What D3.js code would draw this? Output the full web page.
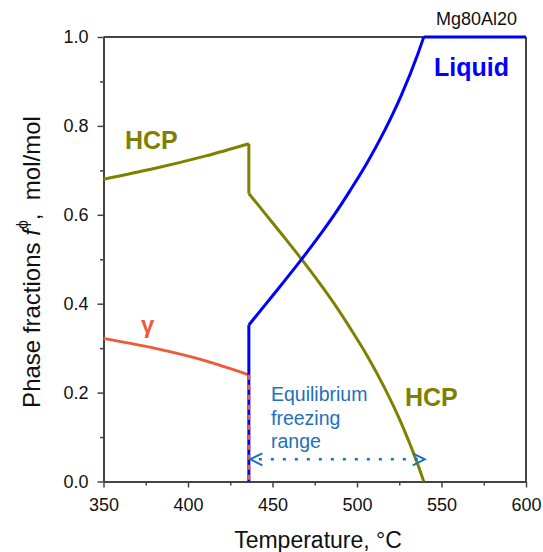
<!DOCTYPE html>
<html>
<head>
<meta charset="utf-8">
<script src="https://cdn.jsdelivr.net/npm/d3@7"></script>
<style>
  body { margin: 0; background: #fff; }
  svg { display: block; font-family: Arial, "Liberation Sans", sans-serif; }
</style>
</head>
<body>
<svg id="chart" width="543" height="552"></svg>
<script>
// Mg80Al20 equilibrium phase fractions vs temperature
const solidusT = 436;       // eutectic / solidus temperature, °C
const liquidusT = 539.5;    // liquidus temperature, °C

// HCP below the solidus
const hcpLowT = [350, 380, 410, 436];
const hcpLowF = [0.680, 0.704, 0.732, 0.760];

// HCP between solidus and liquidus
const hcpHighT = [436, 446, 456, 466, 476, 486, 496, 506, 516, 526, 536, 539.5];
const hcpHighF = [0.648, 0.601, 0.554, 0.506, 0.456, 0.403, 0.345, 0.283, 0.213, 0.133, 0.038, 0.0];

// Liquid between solidus and liquidus, then fully liquid
const liqT = [436, 446, 456, 466, 476, 486, 496, 506, 516, 526, 536, 539.5];
const liqF = [0.352, 0.399, 0.446, 0.494, 0.544, 0.597, 0.655, 0.717, 0.787, 0.867, 0.962, 1.0];
const liqFullT = [539.5, 600];
const liqFullF = [1.0, 1.0];

// gamma (Mg17Al12)
const gammaT = [350, 380, 410, 436];
const gammaF = [0.322, 0.300, 0.272, 0.240];

// axis ticks
const xMajor = [350, 400, 450, 500, 550, 600];
const xMinor = [375, 425, 475, 525, 575];
const yMajor = [0, 0.2, 0.4, 0.6, 0.8, 1.0];
const yMinor = [0.1, 0.3, 0.5, 0.7, 0.9];

// freezing range arrow height
const arrowF = 0.05;

const colHCP = "#808000", colLiq = "#0000ff", colGamma = "#f05a3c", colNote = "#1f6fbf", colAxis = "#444";

const svg = d3.select("#chart");
const L = 103.5, R = 526, T = 37, B = 481.5;
const x = d3.scaleLinear([350, 600], [L, R]);
const y = d3.scaleLinear([0, 1], [B, T]);

const pts = (ts, fs) => ts.map((t, i) => [t, fs[i]]);
const smooth = d3.line().x(d => x(d[0])).y(d => y(d[1])).curve(d3.curveMonotoneX);
const straight = d3.line().x(d => x(d[0])).y(d => y(d[1]));

// frame: top and right borders
svg.append("line").attr("x1", L).attr("x2", R).attr("y1", T).attr("y2", T)
  .attr("stroke", colAxis).attr("stroke-width", 2);
svg.append("line").attr("x1", R).attr("x2", R).attr("y1", T).attr("y2", B)
  .attr("stroke", colAxis).attr("stroke-width", 2);

// axes
function styleAxis(g) {
  g.selectAll("path.domain").attr("stroke", colAxis).attr("stroke-width", 2);
  g.selectAll(".tick line").attr("stroke", colAxis).attr("stroke-width", 1.5);
  g.selectAll(".tick text").attr("fill", "#111").style("font-size", "18px")
    .style("font-family", "Arial, 'Liberation Sans', sans-serif");
}
const gx = svg.append("g").attr("transform", `translate(0,${B})`)
  .call(d3.axisBottom(x).tickValues(xMajor).tickSize(6).tickSizeOuter(0).tickPadding(11).tickFormat(d3.format("d")));
styleAxis(gx);
const gxm = svg.append("g").attr("transform", `translate(0,${B})`)
  .call(d3.axisBottom(x).tickValues(xMinor).tickSize(4).tickFormat(""));
gxm.select("path.domain").remove();
styleAxis(gxm);

const gy = svg.append("g").attr("transform", `translate(${L},0)`)
  .call(d3.axisLeft(y).tickValues(yMajor).tickSize(6).tickSizeOuter(0).tickPadding(9).tickFormat(d3.format(".1f")));
styleAxis(gy);
const gym = svg.append("g").attr("transform", `translate(${L},0)`)
  .call(d3.axisLeft(y).tickValues(yMinor).tickSize(3.5).tickFormat(""));
gym.select("path.domain").remove();
styleAxis(gym);

// axis titles
svg.append("text").attr("x", 318).attr("y", 548).attr("text-anchor", "middle")
  .style("font-size", "23px").attr("fill", "#111").text("Temperature, °C");

const yt = svg.append("text").attr("transform", "translate(40,262) rotate(-90)")
  .attr("text-anchor", "middle").style("font-size", "24px").attr("fill", "#111");
yt.append("tspan").text("Phase fractions ");
yt.append("tspan").style("font-style", "italic").text("f");
yt.append("tspan").attr("dy", -12).style("font-size", "16px").text("ϕ");
yt.append("tspan").attr("dy", 12).text(",\u00a0\u00a0mol/mol");

// HCP
svg.append("path").attr("d", smooth(pts(hcpLowT, hcpLowF)))
  .attr("fill", "none").attr("stroke", colHCP).attr("stroke-width", 3);
svg.append("path")
  .attr("d", straight([[solidusT, hcpLowF[hcpLowF.length - 1]], [solidusT, hcpHighF[0]]]))
  .attr("fill", "none").attr("stroke", colHCP).attr("stroke-width", 3);
svg.append("path").attr("d", smooth(pts(hcpHighT, hcpHighF)))
  .attr("fill", "none").attr("stroke", colHCP).attr("stroke-width", 3);

// gamma
svg.append("path").attr("d", smooth(pts(gammaT, gammaF)))
  .attr("fill", "none").attr("stroke", colGamma).attr("stroke-width", 3);

// liquid
svg.append("path").attr("d", straight([[solidusT, 0], [solidusT, liqF[0]]]))
  .attr("fill", "none").attr("stroke", colLiq).attr("stroke-width", 3);
svg.append("path").attr("d", smooth(pts(liqT, liqF)))
  .attr("fill", "none").attr("stroke", colLiq).attr("stroke-width", 3).attr("stroke-linejoin", "round");
svg.append("path").attr("d", straight(pts(liqFullT, liqFullF)))
  .attr("fill", "none").attr("stroke", colLiq).attr("stroke-width", 3);

// gamma vanishing at the solidus (dashed over the liquid drop)
svg.append("path").attr("d", straight([[solidusT, gammaF[gammaF.length - 1]], [solidusT, 0]]))
  .attr("fill", "none").attr("stroke", colGamma).attr("stroke-width", 3).attr("stroke-dasharray", "5,5");

// freezing range arrow
svg.append("path").attr("d", straight([[solidusT, arrowF], [liquidusT, arrowF]]))
  .attr("fill", "none").attr("stroke", colNote).attr("stroke-width", 2.5)
  .attr("stroke-dasharray", "3,9").attr("stroke-dashoffset", -10);
const ax0 = x(solidusT) + 1.5, ax1 = x(liquidusT) + 1, ay = y(arrowF);
svg.append("path").attr("d", `M${ax0 + 12},${ay - 6}L${ax0},${ay}L${ax0 + 12},${ay + 6}`)
  .attr("fill", "none").attr("stroke", colNote).attr("stroke-width", 2);
svg.append("path").attr("d", `M${ax1 - 12},${ay - 6}L${ax1},${ay}L${ax1 - 12},${ay + 6}`)
  .attr("fill", "none").attr("stroke", colNote).attr("stroke-width", 2);

const note = svg.append("text").attr("x", 271).attr("y", 401).style("font-size", "19.5px").attr("fill", colNote);
["Equilibrium", "freezing", "range"].forEach((s, i) =>
  note.append("tspan").attr("x", 271).attr("dy", i ? 23.5 : 0).text(s));

// phase labels
svg.append("text").attr("x", 125).attr("y", 149).style("font-size", "25px").style("font-weight", "bold")
  .attr("fill", colHCP).text("HCP");
svg.append("text").attr("x", 405).attr("y", 406).style("font-size", "25px").style("font-weight", "bold")
  .attr("fill", colHCP).text("HCP");
svg.append("text").attr("x", 434).attr("y", 76).style("font-size", "25px").style("font-weight", "bold")
  .attr("fill", colLiq).text("Liquid");
svg.append("text").attr("x", 141).attr("y", 333).style("font-size", "24px").style("font-weight", "bold")
  .attr("fill", colGamma).text("γ");

// alloy label
svg.append("text").attr("x", 517).attr("y", 25).attr("text-anchor", "end").style("font-size", "18px")
  .attr("fill", "#111").text("Mg80Al20");
</script>
</body>
</html>
